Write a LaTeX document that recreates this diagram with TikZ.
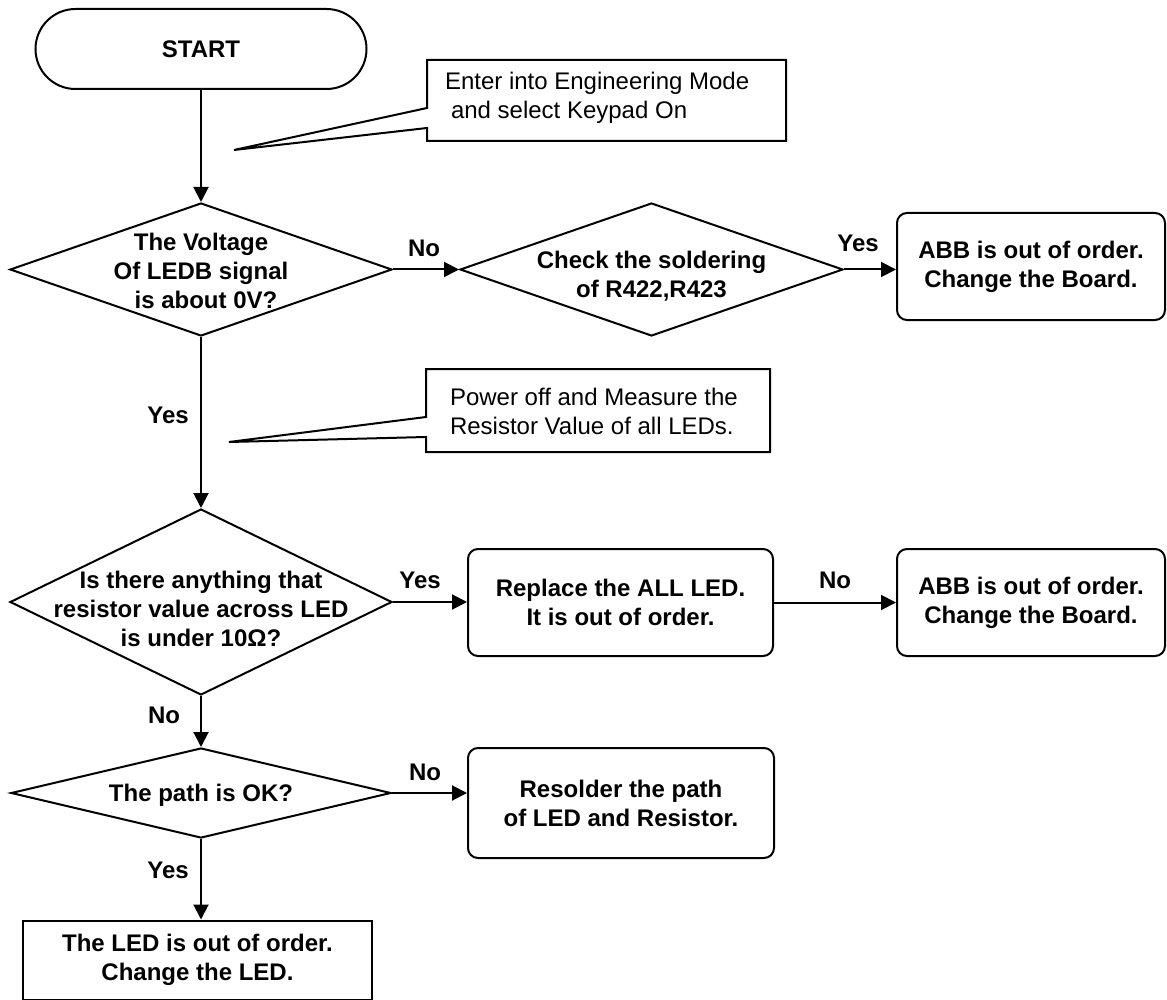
\documentclass[tikz,border=0pt]{standalone}
\usepackage{fontspec}
\setmainfont{Liberation Sans}
\usetikzlibrary{arrows.meta,shapes.geometric,shapes.misc}

\newcommand{\flowfont}{\fontsize{12pt}{14.5pt}\selectfont}

\tikzset{
  flow/.style={-{Triangle[length=7.5pt,width=7.5pt]}},
  term/.style={rounded rectangle, draw, inner sep=0pt, font=\flowfont\bfseries},
  dec/.style={diamond, draw, inner sep=0pt},
  dectext/.style={align=center, inner sep=0pt, font=\flowfont\bfseries},
  proc/.style={rectangle, rounded corners=5pt, draw, align=center, inner sep=0pt, font=\flowfont\bfseries},
  endbox/.style={rectangle, draw, align=center, inner sep=0pt, font=\flowfont\bfseries},
  lab/.style={inner sep=0pt, font=\flowfont\bfseries},
  notetext/.style={align=left, inner sep=0pt, anchor=west, font=\flowfont},
}

\begin{document}
\begin{tikzpicture}[x=0.5pt, y=-0.5pt, line width=1pt]
\useasboundingbox (0,0) rectangle (1167,1000);

% start terminal
\node[term, minimum width=165.5pt, minimum height=40pt] (start) at (201,49) {START};

% first note with its pointer
\coordinate (t1) at (234,150);
\draw[line join=miter] (427,60) -- (786,60) -- (786,141) -- (427,141) -- (427,128) -- (t1) -- (427,108) -- cycle;
\node[notetext] (n1) at (444,98) {Enter into Engineering Mode\\\hspace{3pt}and select Keypad On};

% first decision
\node[dec, minimum width=191pt, minimum height=66.5pt] (d1) at (201,269.5) {};
\node[dectext] (d1t) at (201,271) {The Voltage\\Of LEDB signal\\\hspace{5pt}is about 0V?};

% soldering check
\node[dec, minimum width=191.5pt, minimum height=66.5pt] (d2) at (651.5,269.5) {};
\node[dectext] (d2t) at (651.5,276) {Check the soldering\\of R422,R423};

\node[proc, minimum width=134pt, minimum height=53.5pt] (b1) at (1031,266.5) {ABB is out of order.\\Change the Board.};

% second note with its pointer
\coordinate (t2) at (229,442);
\draw[line join=miter] (426,369) -- (770,369) -- (770,452) -- (426,452) -- (426,437) -- (t2) -- (426,417) -- cycle;
\node[notetext] (n2) at (449,411) {Power off and Measure the\\Resistor Value of all LEDs.};

% resistance decision
\node[dec, minimum width=191pt, minimum height=93pt] (d3) at (201,602) {};
\node[dectext] (d3t) at (201,609) {Is there anything that\\resistor value across LED\\is under 10Ω?};

\node[proc, minimum width=152.5pt, minimum height=53.5pt] (r) at (620.5,602.5) {Replace the ALL LED.\\It is out of order.};
\node[proc, minimum width=134pt, minimum height=53.5pt] (b2) at (1031,602.5) {ABB is out of order.\\Change the Board.};

% path decision
\node[dec, minimum width=190pt, minimum height=45pt] (d4) at (201,793) {};
\node[dectext] (d4t) at (201,795) {The path is OK?};

\node[proc, minimum width=153pt, minimum height=55pt] (rs) at (621,803) {Resolder the path\hspace{13pt}\\of LED and Resistor.};

\node[endbox, minimum width=174.5pt, minimum height=39.5pt] (f) at (197.5,960) {The LED is out of order.\\Change the LED.};

% connectors
\draw[flow] (start.south) -- (start.south |- d1.north);
\draw[flow] (d1.east) -- (d1.east -| d2.west);
\draw[flow] (d2.east) -- (d2.east -| b1.west);
\draw[flow] (d1.south) -- (d1.south |- d3.north);
\draw[flow] (d3.east) -- (d3.east -| r.west);
\draw[flow] (r.east) -- (r.east -| b2.west);
\draw[flow] (d3.south) -- (d3.south |- d4.north);
\draw[flow] (d4.east) -- (d4.east -| rs.west);
\draw[flow] (d4.south) -- (d4.south |- f.north);

% branch labels
\node[lab] (l1) at (424,248) {No};
\node[lab] (l2) at (858,243) {Yes};
\node[lab] (l3) at (168,415) {Yes};
\node[lab] (l4) at (420,580) {Yes};
\node[lab] (l5) at (835,580) {No};
\node[lab] (l6) at (164,715) {No};
\node[lab] (l7) at (425,772) {No};
\node[lab] (l8) at (168,870) {Yes};
\end{tikzpicture}
\end{document}
